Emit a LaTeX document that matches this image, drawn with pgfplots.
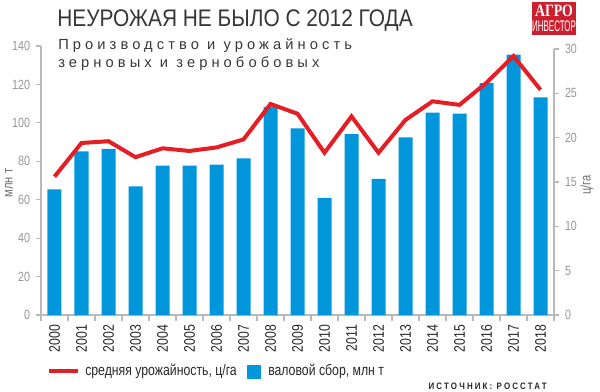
\documentclass[border=0pt]{standalone}
\usepackage{fontspec}
\setmainfont{Liberation Sans}[FakeStretch=0.8]
\newfontfamily\titlefont{Liberation Sans}[FakeStretch=0.87]
\newfontfamily\subfont{Liberation Sans}[LetterSpace=28]
\newfontfamily\srcfont{Liberation Sans}[LetterSpace=23,FakeStretch=0.85]
\newfontfamily\logoserif{Liberation Serif}[FakeStretch=0.8]
\newfontfamily\logocond{Liberation Sans}[FakeStretch=0.52]
\usepackage{pgfplots}
\pgfplotsset{compat=1.18}
\definecolor{barblue}{RGB}{0,150,219}
\definecolor{linered}{RGB}{228,30,36}
\definecolor{axgray}{RGB}{185,185,185}
\definecolor{tickgray}{RGB}{150,150,150}
\definecolor{labgray}{RGB}{110,110,110}
\definecolor{txt}{RGB}{40,40,40}
\definecolor{titlegray}{RGB}{55,55,55}
\definecolor{logored}{RGB}{205,32,46}

\pgfplotstableread{
x harvest yield
0 65.4 15.6
1 85.1 19.4
2 86.5 19.6
3 67.0 17.8
4 77.8 18.8
5 77.8 18.5
6 78.2 18.9
7 81.5 19.8
8 108.2 23.8
9 97.1 22.7
10 61.0 18.3
11 94.2 22.4
12 70.9 18.3
13 92.4 22.0
14 105.3 24.1
15 104.8 23.7
16 120.7 26.2
17 135.5 29.2
18 113.3 25.4
}\datatable

\begin{document}
\begin{tikzpicture}
\useasboundingbox (0,0) rectangle (450pt,-294pt);

\begin{axis}[
  scale only axis,
  width=384.75pt, height=201.75pt,
  at={(30.75pt,-236.25pt)}, anchor=south west,
  xmin=-0.5, xmax=18.5, ymin=0, ymax=140,
  axis lines=left,
  axis line style={draw=axgray, line width=0.8pt, -},
  tick align=outside,
  tick style={draw=axgray, line width=0.8pt},
  major tick length=3.75pt, minor tick length=4.5pt,
  ytick={0,20,...,140},
  yticklabel style={text=tickgray, font=\fontsize{10}{10}\selectfont, xshift=-1pt},
  xtick={0,...,18},
  xticklabels={2000,2001,2002,2003,2004,2005,2006,2007,2008,2009,2010,2011,2012,2013,2014,2015,2016,2017,2018},
  major x tick style={draw=none},
  minor xtick={-0.5,0.5,...,18.5},
  xticklabel style={rotate=90, anchor=east, text=txt, font=\fontsize{11.5}{11.5}\selectfont},
  /pgf/number format/assume math mode=true,
  ybar, bar width=10.5pt,
  clip=false,
]
\addplot[fill=barblue, draw=none] table[x=x, y=harvest] {\datatable};
\end{axis}

\begin{axis}[
  scale only axis,
  width=384.75pt, height=199.5pt,
  at={(30.75pt,-236.25pt)}, anchor=south west,
  xmin=-0.5, xmax=18.5, ymin=0, ymax=30,
  axis x line=none,
  axis y line=right,
  axis line style={draw=axgray, line width=0.8pt, -},
  tick align=outside,
  tick style={draw=axgray, line width=0.8pt},
  major tick length=3.75pt,
  ytick={0,5,...,30},
  yticklabel style={text=tickgray, font=\fontsize{10}{10}\selectfont, xshift=1pt},
  /pgf/number format/assume math mode=true,
  clip=false,
]
\addplot[linered, line width=3pt, mark=none] table[x=x, y=yield] {\datatable};
\end{axis}

\begin{scope}[x=0.75pt, y=-0.75pt]
  % title
  \node[anchor=base west, inner sep=0, text=titlegray, font=\titlefont\fontsize{18}{18}\selectfont] at (57,27) {НЕУРОЖАЯ НЕ БЫЛО С 2012 ГОДА};
  \node[anchor=base west, inner sep=0, text=titlegray, font=\subfont\fontsize{11}{11}\selectfont] at (58,50) {Производство и урожайность};
  \node[anchor=base west, inner sep=0, text=titlegray, font=\subfont\fontsize{11}{11}\selectfont] at (58,68) {зерновых и зернобобовых};
  % logo
  \fill[logored] (532,2) rectangle (576,35);
  \node[anchor=base, inner sep=0, text=white, font=\logoserif\bfseries\fontsize{13}{13}\selectfont] at (554,17) {АГРО};
  \node[anchor=base, inner sep=0, text=white, font=\logocond\fontsize{11.5}{11.5}\selectfont] at (554,32) {ИНВЕСТОР};
  % axis labels
  \node[rotate=90, anchor=center, inner sep=0, text=labgray, font=\fontsize{10.5}{10.5}\selectfont] at (9,183) {млн т};
  \node[rotate=90, anchor=center, inner sep=0, text=labgray, font=\fontsize{10.5}{10.5}\selectfont] at (587,185) {ц/га};
  % legend
  \draw[linered, line width=3pt] (49,371) -- (78,371);
  \node[anchor=base west, inner sep=0, text=txt, font=\fontsize{11.5}{11.5}\selectfont] at (85,375) {средняя урожайность, ц/га};
  \fill[barblue] (247,365) rectangle (261,379);
  \node[anchor=base west, inner sep=0, text=txt, font=\fontsize{11.5}{11.5}\selectfont] at (268,375) {валовой сбор, млн т};
  % source
  \node[anchor=base east, inner sep=0, text=txt, font=\srcfont\bfseries\fontsize{7}{7}\selectfont] at (547,389) {ИСТОЧНИК: РОССТАТ};
\end{scope}
\end{tikzpicture}
\end{document}
